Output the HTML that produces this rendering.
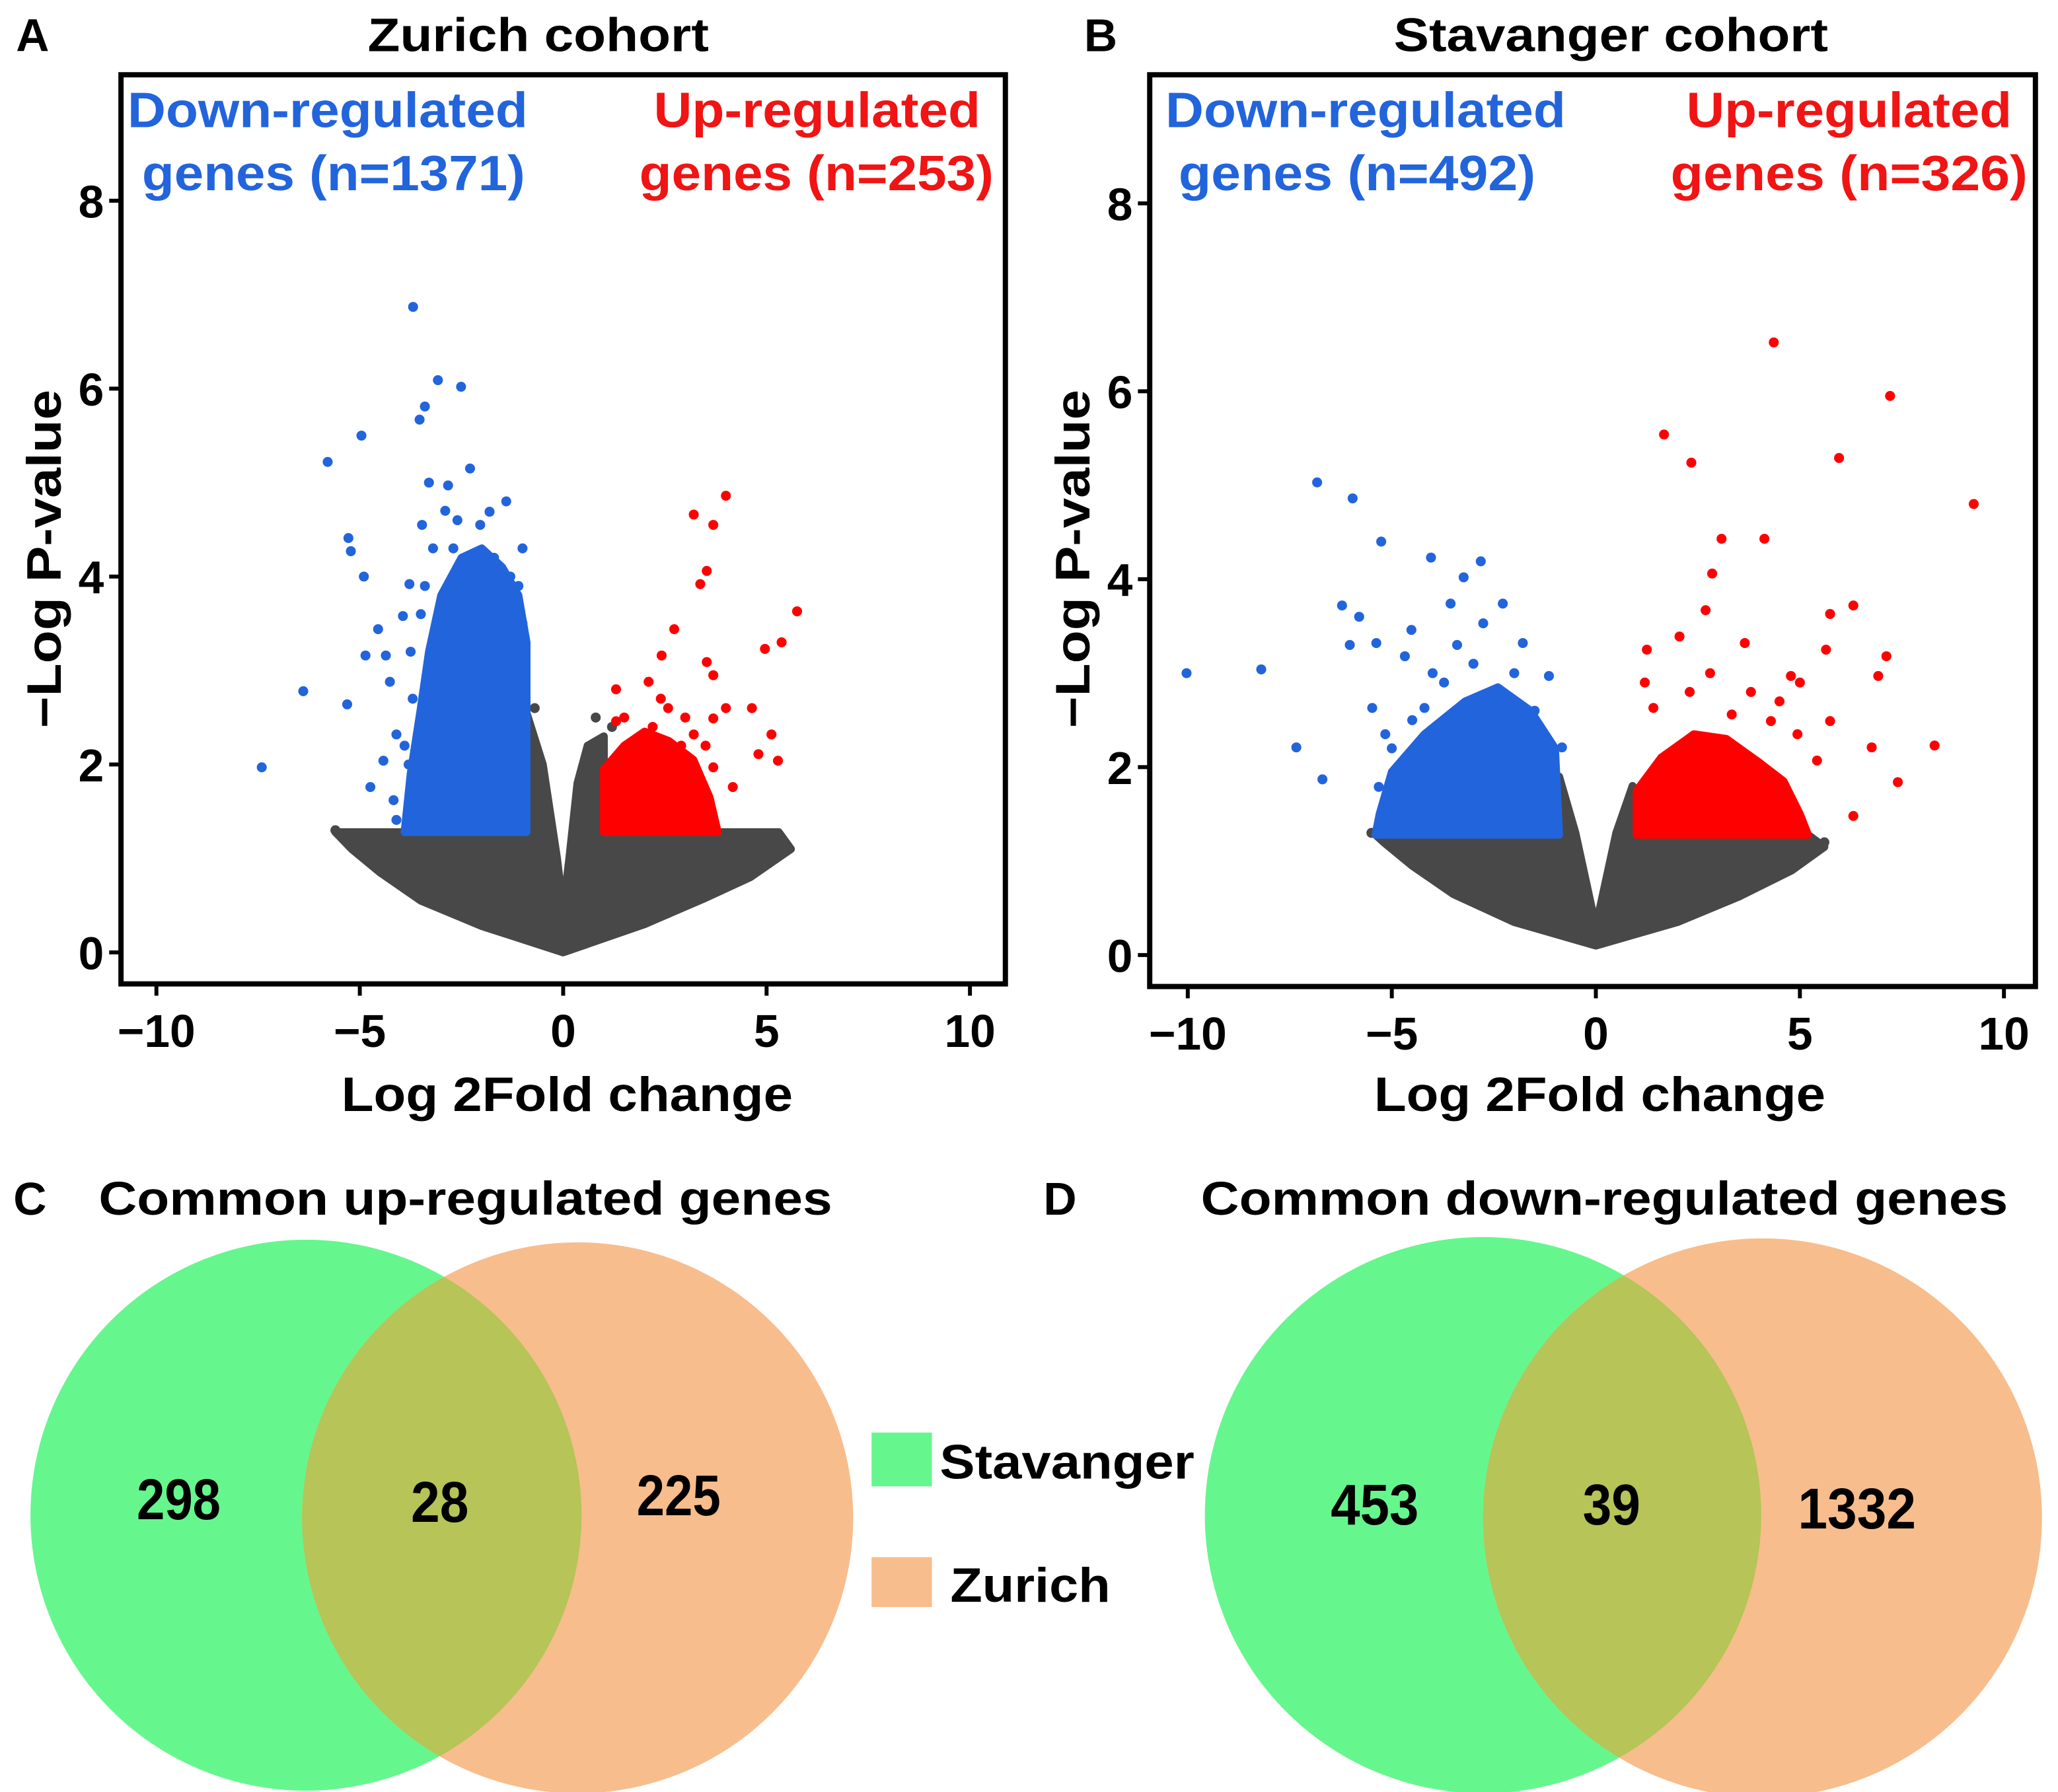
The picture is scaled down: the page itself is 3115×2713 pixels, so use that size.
<!DOCTYPE html>
<html><head><meta charset="utf-8"><style>
html,body{margin:0;padding:0;background:#fff;}
svg{display:block;}
text{font-family:"Liberation Sans",Arial,sans-serif;font-weight:bold;}
.num{font-family:"Liberation Sans Narrow","Liberation Sans",sans-serif;}
</style></head><body>
<svg id="fig" width="3115" height="2713" viewBox="0 0 1568 1366" xmlns="http://www.w3.org/2000/svg">
<text x="12" y="39" font-size="35">A</text>
<text x="280" y="39" font-size="36" textLength="260" lengthAdjust="spacingAndGlyphs">Zurich cohort</text>
<text x="826" y="39" font-size="35">B</text>
<text x="1062" y="39" font-size="36" textLength="331" lengthAdjust="spacingAndGlyphs">Stavanger cohort</text>
<g id="pa"></g>
<g id="pb"></g>

<text x="10" y="926" font-size="35">C</text>
<text x="75" y="926" font-size="36" textLength="559" lengthAdjust="spacingAndGlyphs">Common up-regulated genes</text>
<text x="795" y="926" font-size="35">D</text>
<text x="915" y="926" font-size="36" textLength="615" lengthAdjust="spacingAndGlyphs">Common down-regulated genes</text>
<defs>
<clipPath id="clipC"><circle cx="233" cy="1155" r="210"/></clipPath>
<clipPath id="clipD"><circle cx="1130" cy="1155" r="212"/></clipPath>
</defs>
<g>
<circle cx="233" cy="1155" r="210" fill="#66f68e"/>
<circle cx="440" cy="1157" r="210" fill="#f8bd8c"/>
<circle cx="440" cy="1157" r="210" fill="#b6c458" clip-path="url(#clipC)"/>
<text class="num" x="104" y="1158" font-size="44" textLength="64" lengthAdjust="spacingAndGlyphs">298</text>
<text class="num" x="313" y="1160" font-size="44" textLength="44" lengthAdjust="spacingAndGlyphs">28</text>
<text class="num" x="485" y="1155" font-size="44" textLength="64" lengthAdjust="spacingAndGlyphs">225</text>
</g>
<g>
<circle cx="1130" cy="1155" r="212" fill="#66f68e"/>
<circle cx="1343" cy="1157" r="213" fill="#f8bd8c"/>
<circle cx="1343" cy="1157" r="213" fill="#b6c458" clip-path="url(#clipD)"/>
<text class="num" x="1014" y="1162" font-size="44" textLength="67" lengthAdjust="spacingAndGlyphs">453</text>
<text class="num" x="1206" y="1162" font-size="44" textLength="44" lengthAdjust="spacingAndGlyphs">39</text>
<text class="num" x="1370" y="1165" font-size="44" textLength="90" lengthAdjust="spacingAndGlyphs">1332</text>
</g>
<g>
<rect x="664" y="1092" width="46" height="41" fill="#66f68e"/>
<text x="716" y="1127" font-size="37" textLength="194" lengthAdjust="spacingAndGlyphs">Stavanger</text>
<rect x="664" y="1187" width="46" height="38" fill="#f8bd8c"/>
<text x="724" y="1221" font-size="37" textLength="122" lengthAdjust="spacingAndGlyphs">Zurich</text>
</g>
</svg>
<script>
const xTicks=[-10,-5,0,5,10];
const yTicks=[0,2,4,6,8];
// Panel A (Zurich)
const aBlueDots=[[-3.69,6.87],[-3.08,6.09],[-2.51,6.02],[-3.4,5.81],[-3.53,5.67],[-5.79,5.22],[-4.96,5.5],[-2.29,5.15],[-1.4,4.8],[-5.28,4.41],[-5.22,4.27],[-4.9,4.0],[-6.39,2.78],[-7.41,1.97],[-5.31,2.64],[-4.55,3.44],[-4.36,3.16],[-4.86,3.16],[-4.26,2.88],[-4.1,2.32],[-4.42,2.04],[-4.74,1.76],[-4.17,1.62],[-4.1,1.41],[-3.78,3.92],[-3.94,3.58],[-3.47,4.55],[-2.83,4.97],[-2.04,4.55],[-1.81,4.69],[-1.1,3.9],[-1.0,4.3],[-3.2,4.3],[-2.6,4.6],[-3.7,2.7],[-3.9,2.2],[-3.75,3.2],[-3.3,5.0],[-2.7,4.3],[-3.5,3.6],[-1.3,4.0],[-1.7,4.2],[-2.9,4.7],[-3.8,2.0],[-3.6,1.8],[-1.0,3.5],[-3.4,3.9]];
const aBlueArea=[[-0.9,1.28],[-0.9,3.3],[-1.1,3.8],[-1.5,4.1],[-2.0,4.3],[-2.5,4.2],[-3.0,3.8],[-3.3,3.2],[-3.5,2.6],[-3.75,1.9],[-3.9,1.28]];
const aRedDots=[[4.0,4.86],[3.21,4.66],[3.69,4.55],[3.53,4.06],[3.37,3.92],[5.75,3.63],[5.37,3.3],[4.96,3.23],[2.73,3.44],[2.42,3.16],[3.53,3.09],[3.69,2.95],[2.1,2.88],[1.3,2.8],[4.0,2.6],[4.64,2.6],[5.12,2.32],[5.28,2.04],[4.8,2.11],[3.69,1.97],[3.21,2.32],[4.17,1.76],[1.3,2.46],[1.94,2.25],[2.58,2.6],[3.69,2.49],[2.2,2.4],[2.9,2.2],[1.6,2.2],[1.5,2.5],[2.4,2.7],[3.0,2.5],[3.5,2.2]];
const aRedArea=[[1.0,1.28],[1.0,1.95],[1.5,2.2],[2.0,2.35],[2.6,2.25],[3.2,2.05],[3.6,1.65],[3.8,1.28]];
const aGrayArea=[[0,0],[-2,0.28],[-3.5,0.55],[-4.5,0.85],[-5.2,1.1],[-5.6,1.28],[-0.9,1.28],[-0.9,2.55],[-0.5,2.0],[-0.15,1.0],[0,0.45],[0.15,1.0],[0.35,1.8],[0.6,2.2],[1.0,2.3],[1.0,1.28],[5.3,1.28],[5.6,1.1],[4.6,0.8],[3.5,0.58],[2,0.3]];
const aGrayDots=[[-5.6,1.3],[-5.0,1.2],[-4.6,1.15],[5.3,1.2],[4.9,1.25],[1.2,2.4],[0.8,2.5],[-0.7,2.6]];
// Panel B (Stavanger)
const bBlueDots=[[-6.83,5.03],[-5.96,4.86],[-5.26,4.4],[-10.03,3.0],[-7.34,2.21],[-8.2,3.04],[-6.7,1.87],[-6.22,3.72],[-5.8,3.6],[-6.03,3.3],[-5.38,3.32],[-4.04,4.23],[-2.82,4.19],[-3.24,4.02],[-3.56,3.74],[-2.76,3.53],[-4.52,3.46],[-4.68,3.18],[-1.15,2.97],[-1.79,3.32],[-2.28,3.74],[-5.48,2.63],[-5.16,2.35],[-5.32,1.79],[-4.84,1.65],[-4.2,2.63],[-3.72,2.9],[-0.83,2.21],[-3.0,3.1],[-2.0,3.0],[-4.0,3.0],[-5.0,2.2],[-4.5,2.5],[-1.5,2.6],[-3.4,3.3]];
const bBlueArea=[[-0.9,1.28],[-1.0,2.2],[-1.6,2.6],[-2.4,2.85],[-3.2,2.7],[-4.2,2.35],[-5.0,1.95],[-5.3,1.5],[-5.4,1.28]];
const bRedDots=[[4.36,6.52],[7.21,5.95],[1.67,5.54],[2.34,5.24],[5.96,5.29],[9.26,4.8],[3.08,4.43],[4.13,4.43],[2.85,4.06],[2.69,3.67],[6.31,3.72],[5.74,3.63],[5.64,3.25],[7.12,3.18],[6.92,2.97],[8.3,2.23],[7.4,1.84],[6.31,1.48],[6.76,2.21],[4.78,2.97],[5.0,2.9],[1.25,3.25],[2.05,3.39],[3.65,3.32],[4.29,2.49],[4.94,2.35],[5.42,2.07],[3.33,2.56],[1.41,2.63],[5.74,2.49],[2.8,3.0],[3.8,2.8],[1.2,2.9],[2.3,2.8],[4.5,2.7]];
const bRedArea=[[1.0,1.28],[1.0,1.75],[1.6,2.1],[2.4,2.35],[3.2,2.3],[4.0,2.05],[4.6,1.85],[5.0,1.5],[5.2,1.28]];
const bGrayArea=[[0,0.1],[-2,0.35],[-3.5,0.65],[-4.5,0.95],[-5.2,1.2],[-5.4,1.28],[-0.9,1.28],[-0.9,1.9],[-0.5,1.3],[-0.15,0.6],[0,0.3],[0.15,0.6],[0.5,1.3],[0.9,1.8],[1.0,1.28],[5.2,1.28],[5.6,1.15],[4.8,0.9],[3.5,0.62],[2,0.35]];
const bGrayDots=[[-5.5,1.3],[5.6,1.2],[5.3,1.1]];

const NS='http://www.w3.org/2000/svg';
function mk(tag,attrs,parent){const e=document.createElementNS(NS,tag);for(const k in attrs)e.setAttribute(k,attrs[k]);parent.appendChild(e);return e;}

function panel(gid,box,x0px,x10px,y0px,y8px,gray,grayDots,blueArea,blueDots,redArea,redDots,labels){
  const g=document.getElementById(gid);
  const sx=v=>x0px+(x10px-x0px)*(v/10);
  const sy=v=>y0px+(y8px-y0px)*(v/8);
  const poly=(pts,fill,name)=>{
    const p=mk('polygon',{points:pts.map(q=>sx(q[0])+','+sy(q[1])).join(' '),fill:fill,stroke:fill,'stroke-width':6,'stroke-linejoin':'round'},g);
    
    
  };
  const dots=(pts,fill,name)=>{pts.forEach(q=>{
    const c=mk('circle',{cx:sx(q[0]),cy:sy(q[1]),r:3.8,fill:fill},g);
    
    
  });};
  poly(gray,'#484848','nonsignificant-genes-area');
  dots(grayDots,'#484848','nonsignificant-gene-point');
  poly(blueArea,'#2264dc','down-regulated-dense-area');
  dots(blueDots,'#2264dc','down-regulated-gene-point');
  poly(redArea,'#ff0000','up-regulated-dense-area');
  dots(redDots,'#ff0000','up-regulated-gene-point');
  const fr=mk('rect',{x:box[0],y:box[1],width:box[2]-box[0],height:box[3]-box[1],fill:'none',stroke:'#000','stroke-width':4},g);
  
  
  xTicks.forEach(t=>{
    const l=mk('line',{x1:sx(t),x2:sx(t),y1:box[3],y2:box[3]+9,stroke:'#000','stroke-width':3},g);
    
    
    const tx=mk('text',{x:sx(t),y:box[3]+48,'font-size':35,'text-anchor':'middle'},g);
    tx.textContent=t<0?'\u2212'+Math.abs(t):String(t);
    
    
  });
  yTicks.forEach(t=>{
    const l=mk('line',{x1:box[0]-9,x2:box[0],y1:sy(t),y2:sy(t),stroke:'#000','stroke-width':3},g);
    
    
    const tx=mk('text',{x:box[0]-13,y:sy(t)+13,'font-size':35,'text-anchor':'end'},g);
    tx.textContent=String(t);
    
    
  });
  const xt=mk('text',{x:x0px-169,y:847,'font-size':37,textLength:344,lengthAdjust:'spacingAndGlyphs'},g);
  xt.textContent='Log 2Fold change';
  
  
  const yt=mk('text',{x:0,y:0,'font-size':37,'text-anchor':'middle',textLength:258,lengthAdjust:'spacingAndGlyphs',transform:'translate('+(box[0]-46)+',426) rotate(-90)'},g);
  yt.textContent='\u2212Log P-value';
  
  
  labels.forEach(L=>{
    const t=mk('text',{x:L[0],y:L[1],'font-size':38,fill:L[3],textLength:L[5],lengthAdjust:'spacingAndGlyphs'},g);
    t.textContent=L[2];
    
    
  });
}
panel('pa',[92,57,766,750],429,739,726,153,aGrayArea,aGrayDots,aBlueArea,aBlueDots,aRedArea,aRedDots,
 [[97,97,'Down-regulated','#2264dc','down-label-line1',305],[108,145,'genes (n=1371)','#2264dc','down-label-line2',292],
  [498,97,'Up-regulated','#f01414','up-label-line1',249],[487,145,'genes (n=253)','#f01414','up-label-line2',270]]);
panel('pb',[876,57,1551,752],1216,1527,728,155,bGrayArea,bGrayDots,bBlueArea,bBlueDots,bRedArea,bRedDots,
 [[888,97,'Down-regulated','#2264dc','down-label-line1',305],[898,145,'genes (n=492)','#2264dc','down-label-line2',272],
  [1285,97,'Up-regulated','#f01414','up-label-line1',248],[1273,145,'genes (n=326)','#f01414','up-label-line2',272]]);
</script>
</body></html>
